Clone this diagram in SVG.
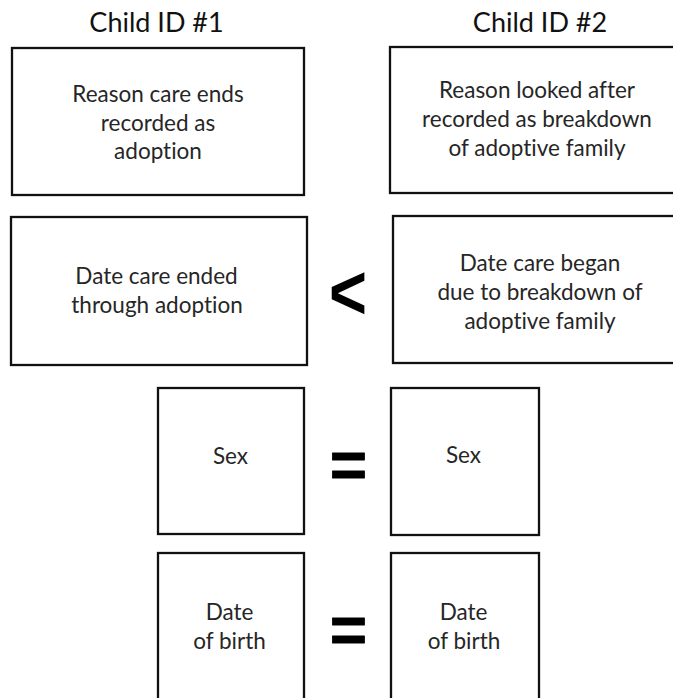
<svg xmlns="http://www.w3.org/2000/svg" width="673" height="698" viewBox="0 0 673 698">
  <style>
    .box { fill: #ffffff; stroke: #111111; stroke-width: 2.3; }
    .lbl { font-family: Lato, "Open Sans", "Liberation Sans", sans-serif; font-size: 22.5px; fill: #262626; text-anchor: middle; font-variant-ligatures: none; }
    .head { font-family: Lato, "Open Sans", "Liberation Sans", sans-serif; font-size: 27px; fill: #111111; text-anchor: middle; font-variant-ligatures: none; }
    .op { font-family: "Liberation Sans", Arial, sans-serif; font-weight: bold; fill: #000000; text-anchor: middle; }
  </style>
  <rect width="673" height="698" fill="#ffffff"/>

  <!-- column headings -->
  <g id="headings">
    <text class="head" x="156.5" y="32">Child ID #1</text>
    <text class="head" x="540" y="32">Child ID #2</text>
  </g>

  <!-- left column -->
  <g id="reason-ends">
    <rect class="box" x="12" y="48" width="292" height="147"/>
    <text class="lbl" x="158" y="102">Reason care ends</text>
    <text class="lbl" x="158" y="130.5">recorded as</text>
    <text class="lbl" x="158" y="159">adoption</text>
  </g>
  <g id="date-ended">
    <rect class="box" x="11" y="217" width="296" height="148"/>
    <text class="lbl" x="156.5" y="284">Date care ended</text>
    <text class="lbl" x="157" y="313">through adoption</text>
  </g>
  <g id="sex-1">
    <rect class="box" x="158" y="388" width="146" height="146"/>
    <text class="lbl" x="230.5" y="464">Sex</text>
  </g>
  <g id="dob-1">
    <rect class="box" x="158" y="553" width="146" height="152"/>
    <text class="lbl" x="229.5" y="620">Date</text>
    <text class="lbl" x="229.5" y="649">of birth</text>
  </g>

  <!-- right column -->
  <g id="reason-looked-after">
    <rect class="box" x="390" y="47" width="290" height="146"/>
    <text class="lbl" x="537" y="98">Reason looked after</text>
    <text class="lbl" x="537" y="127">recorded as breakdown</text>
    <text class="lbl" x="537" y="156">of adoptive family</text>
  </g>
  <g id="date-began">
    <rect class="box" x="393" y="216" width="287" height="147"/>
    <text class="lbl" x="540" y="271">Date care began</text>
    <text class="lbl" x="540" y="300">due to breakdown of</text>
    <text class="lbl" x="540" y="329">adoptive family</text>
  </g>
  <g id="sex-2">
    <rect class="box" x="391" y="388" width="148" height="147"/>
    <text class="lbl" x="463.5" y="463">Sex</text>
  </g>
  <g id="dob-2">
    <rect class="box" x="391" y="553" width="148" height="152"/>
    <text class="lbl" x="463.5" y="620">Date</text>
    <text class="lbl" x="464" y="649">of birth</text>
  </g>

  <!-- comparison operators between the columns -->
  <g id="connectors">
    <text class="op" transform="translate(348,319) scale(1.05,1.25)" x="0" y="0" font-size="62">&lt;</text>
    <text class="op" x="348.5" y="487" font-size="64" stroke="#000000" stroke-width="0.8" stroke-linejoin="round">=</text>
    <text class="op" x="348.5" y="652" font-size="64" stroke="#000000" stroke-width="0.8" stroke-linejoin="round">=</text>
  </g>
</svg>
